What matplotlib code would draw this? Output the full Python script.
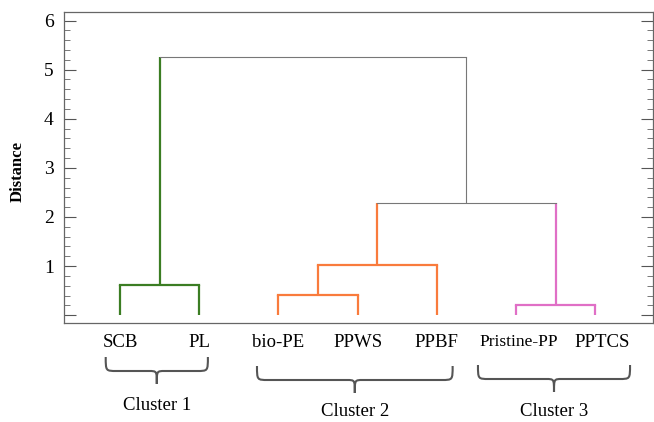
import matplotlib
matplotlib.use("Agg")
import matplotlib.pyplot as plt
import matplotlib.transforms as mtransforms
from matplotlib.path import Path
from matplotlib.patches import PathPatch
from matplotlib.ticker import MultipleLocator, FuncFormatter

plt.rcParams['font.family'] = ['Liberation Serif', 'DejaVu Serif']

# leaves in plotting order
leaf_names = ["SCB", "PL", "bio-PE", "PPWS", "PPBF", "Pristine-PP", "PPTCS"]
leaf_cluster = [0, 0, 1, 1, 1, 2, 2]

# merges: (left node, right node, height, cluster or None); new node ids start at 7
merge_left = [0, 2, 5, 8, 10, 7]
merge_right = [1, 3, 6, 4, 9, 11]
merge_height = [0.61, 0.41, 0.20, 1.02, 2.28, 5.25]
merge_cluster = [0, 1, 2, 1, None, None]

cluster_names = ["Cluster 1", "Cluster 2", "Cluster 3"]
cluster_colors = ["#3b7d23", "#f97b3c", "#e06fc6"]
above_color = "#777777"

fig = plt.figure(figsize=(6.54, 4.22), dpi=100)
ax = fig.add_axes([0.0983, 0.2353, 0.8997, 0.737])

# node positions and colors
node_x = list(range(len(leaf_names)))
node_y = [0.0] * len(leaf_names)
node_c = [cluster_colors[c] for c in leaf_cluster]
for l, r, h, c in zip(merge_left, merge_right, merge_height, merge_cluster):
    x = (node_x[l] + node_x[r]) / 2
    col = cluster_colors[c] if c is not None else above_color
    lw = 1.6 if c is not None else 0.8
    for child in (l, r):
        clw = 0.8 if node_c[child] == above_color else 1.6
        ax.plot([node_x[child], node_x[child]], [node_y[child], h],
                color=node_c[child], lw=clw, solid_capstyle='butt')
    ax.plot([node_x[l], node_x[r]], [h, h], color=col, lw=lw,
            solid_capstyle='projecting')
    node_x.append(x)
    node_y.append(h)
    node_c.append(col)

ax.set_xlim(-0.703, 6.726)
ax.set_ylim(-0.153, 6.18)

ax.set_xticks(range(len(leaf_names)))
ax.set_xticklabels(leaf_names, fontsize=13.5)
ax.tick_params(axis='x', length=0, pad=8)
# small nudges of the last two labels, as in the original figure
nudge_px = {"Pristine-PP": 3, "PPTCS": 7}
for lab in ax.get_xticklabels():
    t = lab.get_text()
    if t == "Pristine-PP":
        lab.set_fontsize(12.5)
    if t in nudge_px:
        lab.set_transform(lab.get_transform() + mtransforms.ScaledTranslation(
            nudge_px[t] / 100, 0, fig.dpi_scale_trans))

ax.yaxis.set_major_locator(MultipleLocator(1))
ax.yaxis.set_minor_locator(MultipleLocator(0.2))
ax.yaxis.set_major_formatter(FuncFormatter(lambda v, p: "" if v < 0.5 else "%d" % v))
ax.tick_params(axis='y', which='major', direction='in', length=8.5, width=0.8,
               right=True, labelsize=14, pad=7.5, color='#555555')
ax.tick_params(axis='y', which='minor', direction='in', length=4.5, width=0.7,
               right=True, color='#777777')
for sp in ax.spines.values():
    sp.set_color('#666666')
    sp.set_linewidth(0.9)

ax.set_ylabel("Distance", fontsize=12, fontweight='bold')
ax.yaxis.set_label_coords(-0.066, 0.486)

# curly braces under each cluster
trans = mtransforms.blended_transform_factory(ax.transData, fig.transFigure)
brace_pad_left = [0.18, 0.27, 0.48]
brace_pad_right = [0.11, 0.2, 0.44]
brace_top_px = [357, 366, 365]
brace_label_px = [405, 411, 411]
H = 422.0
for k, name in enumerate(cluster_names):
    xs = [i for i, c in enumerate(leaf_cluster) if c == k]
    x0 = xs[0] - brace_pad_left[k]
    x1 = xs[-1] + brace_pad_right[k]
    xc = (x0 + x1) / 2
    top = 1 - brace_top_px[k] / H
    mid = 1 - (brace_top_px[k] + 14) / H
    tip = 1 - (brace_top_px[k] + 27) / H
    r = 0.14
    r2 = 0.1
    verts = [(x0, top), (x0, mid), (x0, mid), (x0 + r, mid),
             (xc - r2, mid), (xc, mid), (xc, mid), (xc, tip),
             (x1, top), (x1, mid), (x1, mid), (x1 - r, mid),
             (xc + r2, mid), (xc, mid), (xc, mid), (xc, tip)]
    codes = [Path.MOVETO, Path.CURVE4, Path.CURVE4, Path.CURVE4,
             Path.LINETO, Path.CURVE4, Path.CURVE4, Path.CURVE4] * 2
    patch = PathPatch(Path(verts, codes), facecolor='none', edgecolor='#555555',
                      lw=1.5, transform=trans, clip_on=False)
    fig.add_artist(patch)
    fig.text(xc, 1 - brace_label_px[k] / H, name, transform=trans,
             ha='center', va='center', fontsize=13.5)

fig.savefig("out.png", dpi=100)
